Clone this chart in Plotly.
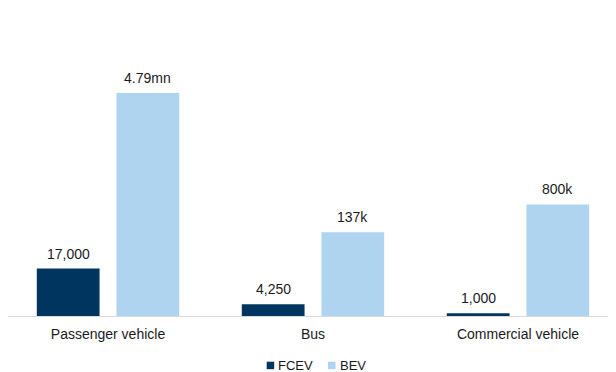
import plotly.graph_objects as go

categories = ["Passenger vehicle", "Bus", "Commercial vehicle"]
fcev_values = [17000, 4250, 1000]
fcev_labels = ["17,000", "4,250", "1,000"]
# BEV bars are drawn on an illustrative (non-proportional) scale in the original
bev_plot_values = [80000, 30000, 40000]
bev_labels = ["4.79mn", "137k", "800k"]
series_names = ["FCEV", "BEV"]

FCEV_COLOR = "#00355F"
BEV_COLOR = "#AED4F0"
TEXT_COLOR = "#1A1A1A"
FONT = "Liberation Sans, Arial, sans-serif"

# page body has an 8px default margin; figure is sized to fit the window
W, H = 608, 364
ML, MR, MT, MB = 0, 0, 12, 56
PW, PH = W - ML - MR, H - MT - MB
CAT_PX = 205.0
BARGAP, GROUPGAP = 0.223, 0.212
SLOT = (1 - BARGAP) * CAT_PX / 2

fig = go.Figure()
fig.add_trace(go.Bar(
    x=categories, y=fcev_values, name=series_names[0],
    marker=dict(color=FCEV_COLOR, line=dict(width=0)),
))
fig.add_trace(go.Bar(
    x=categories, y=bev_plot_values, name=series_names[1],
    marker=dict(color=BEV_COLOR, line=dict(width=0)),
))

# value labels above bars
for vals, labels, side in [(fcev_values, fcev_labels, -1), (bev_plot_values, bev_labels, 1)]:
    for cat, v, lab in zip(categories, vals, labels):
        fig.add_annotation(x=cat, y=v, text=lab, showarrow=False,
                           xanchor="center", yanchor="bottom",
                           xshift=side * SLOT / 2, yshift=5,
                           font=dict(size=14, color=TEXT_COLOR, family=FONT))

# custom legend
def px_x(x):
    return (x - ML) / PW

def px_y(y):
    return (H - MB - y) / PH

legend_items = [(series_names[0], FCEV_COLOR, 258.7), (series_names[1], BEV_COLOR, 320.0)]
for name, col, x0 in legend_items:
    fig.add_shape(type="rect", xref="paper", yref="paper",
                  x0=px_x(x0), x1=px_x(x0 + 7.5), y0=px_y(361.2), y1=px_y(353.7),
                  fillcolor=col, line=dict(width=0))
    fig.add_annotation(text=name, xref="paper", yref="paper", x=px_x(x0 + 9.5), y=px_y(357.5),
                       xanchor="left", yanchor="middle", showarrow=False,
                       font=dict(size=13, color=TEXT_COLOR, family=FONT))

fig.update_layout(
    width=W, height=H,
    margin=dict(l=ML, r=MR, t=MT, b=MB, autoexpand=False),
    paper_bgcolor="white", plot_bgcolor="white",
    barmode="group", bargap=BARGAP, bargroupgap=GROUPGAP,
    font=dict(family=FONT, size=14, color=TEXT_COLOR),
    showlegend=False,
    xaxis=dict(range=[-100 / CAT_PX, -100 / CAT_PX + PW / CAT_PX], showline=True,
               linecolor="#D9D9D9", linewidth=1,
               ticks="", showgrid=False, zeroline=False, automargin=False,
               ticklabelstandoff=5,
               tickfont=dict(size=14, color=TEXT_COLOR, family=FONT)),
    yaxis=dict(range=[0, 106150], visible=False, showgrid=False, zeroline=False),
)

fig.write_html("out.html")
